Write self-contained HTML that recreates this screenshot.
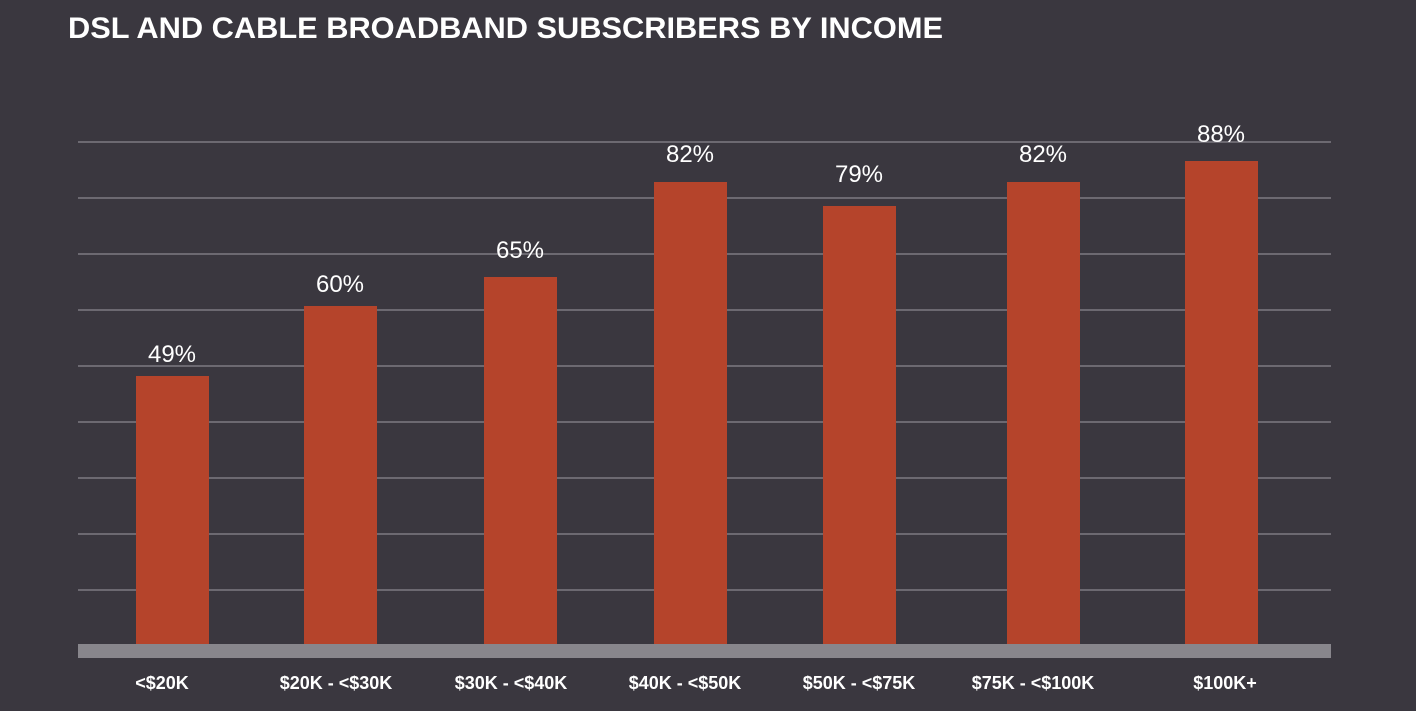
<!DOCTYPE html>
<html><head><style>
html,body{margin:0;padding:0;background:#3a373f;width:1416px;height:711px;overflow:hidden}
svg{display:block}
</style></head><body>
<svg width="1416" height="711" xmlns="http://www.w3.org/2000/svg">
<rect width="1416" height="711" fill="#3a373f"/>
<text x="68" y="38" font-family="Liberation Sans, sans-serif" font-weight="bold" font-size="30" fill="#fff" textLength="875" lengthAdjust="spacingAndGlyphs">DSL AND CABLE BROADBAND SUBSCRIBERS BY INCOME</text>
<g stroke="#7d7a82" stroke-width="1.5">
<line x1="78" x2="1331" y1="142" y2="142"/><line x1="78" x2="1331" y1="198" y2="198"/>
<line x1="78" x2="1331" y1="254" y2="254"/><line x1="78" x2="1331" y1="310" y2="310"/>
<line x1="78" x2="1331" y1="366" y2="366"/><line x1="78" x2="1331" y1="422" y2="422"/>
<line x1="78" x2="1331" y1="478" y2="478"/><line x1="78" x2="1331" y1="534" y2="534"/>
<line x1="78" x2="1331" y1="590" y2="590"/>
</g>
<g fill="#b5442b">
<rect x="136" y="376" width="73" height="268"/>
<rect x="304" y="306" width="73" height="338"/>
<rect x="484" y="277" width="73" height="367"/>
<rect x="654" y="182" width="73" height="462"/>
<rect x="823" y="206" width="73" height="438"/>
<rect x="1007" y="182" width="73" height="462"/>
<rect x="1185" y="161" width="73" height="483"/>
</g>
<rect x="78" y="644" width="1253" height="14" fill="#88868c"/>
<g font-family="Liberation Sans, sans-serif" font-size="24" fill="#fff" text-anchor="middle">
<text x="172" y="362">49%</text><text x="340" y="292">60%</text><text x="520" y="258">65%</text>
<text x="690" y="162">82%</text><text x="859" y="182">79%</text><text x="1043" y="162">82%</text><text x="1221" y="142">88%</text>
</g>
<g font-family="Liberation Sans, sans-serif" font-size="18" font-weight="bold" fill="#fff" text-anchor="middle">
<text x="162" y="689">&lt;$20K</text><text x="336" y="689">$20K - &lt;$30K</text><text x="511" y="689">$30K - &lt;$40K</text>
<text x="685" y="689">$40K - &lt;$50K</text><text x="859" y="689">$50K - &lt;$75K</text><text x="1033" y="689">$75K - &lt;$100K</text>
<text x="1225" y="689">$100K+</text>
</g>
</svg>
</body></html>
